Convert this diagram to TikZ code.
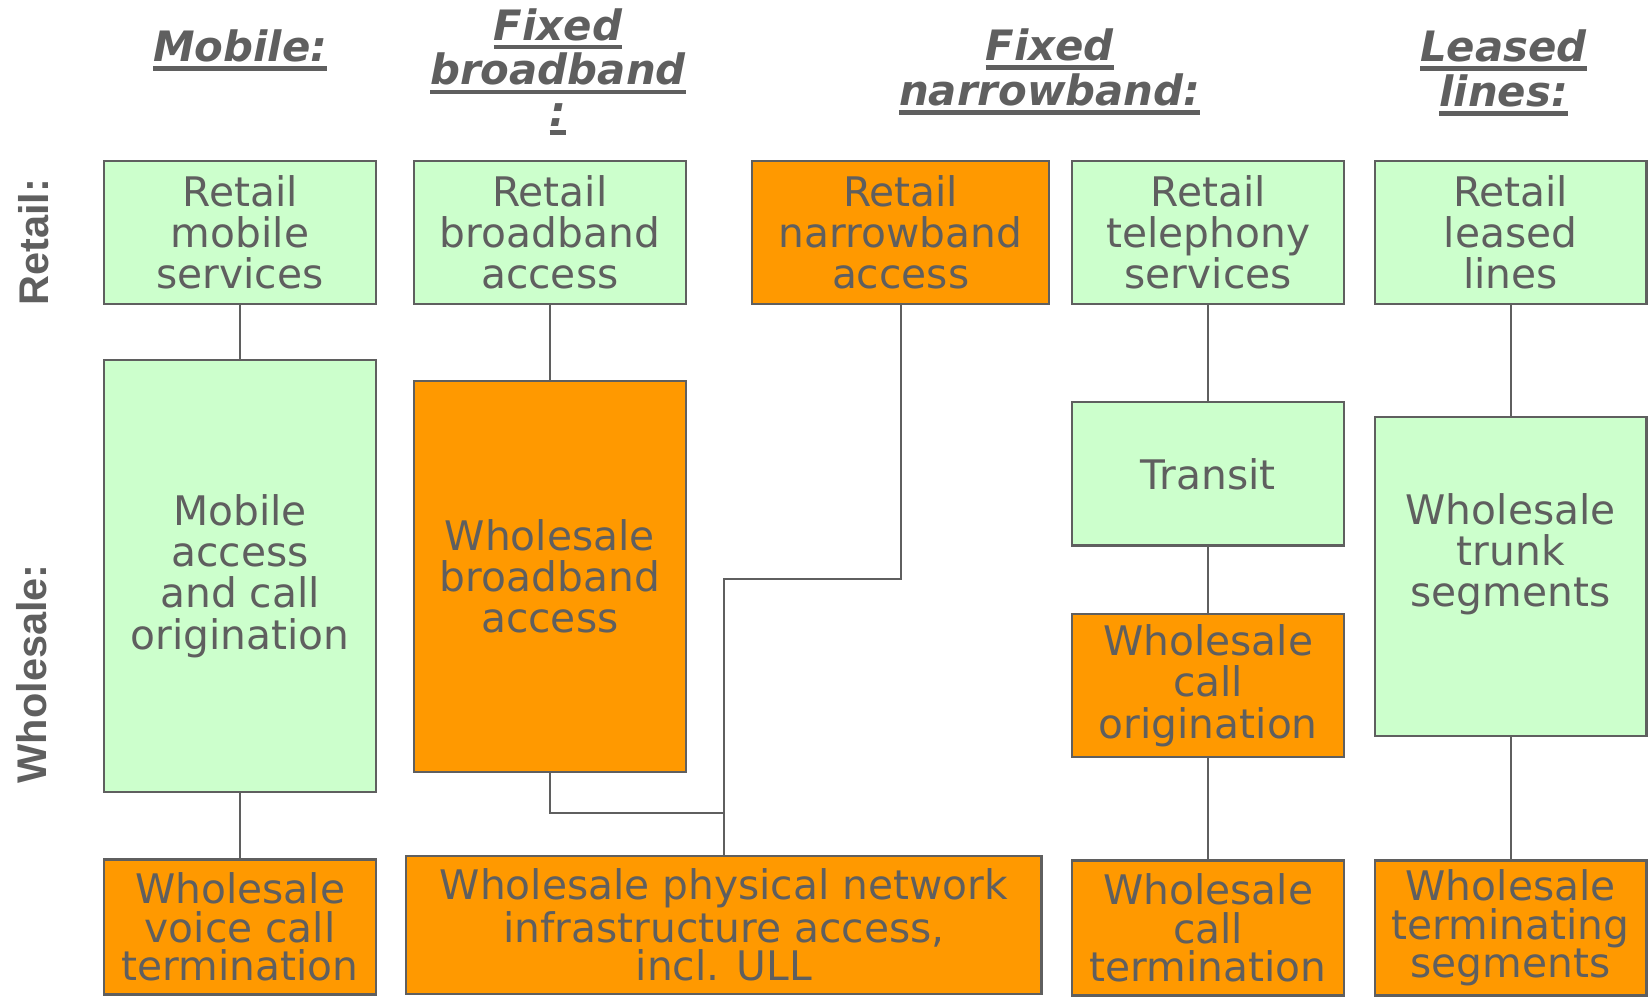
\documentclass[tikz,border=0pt]{standalone}
\usepackage{fontspec}
\setmainfont{DejaVu Sans}
\newfontfamily\sidefont{Liberation Sans}
\usetikzlibrary{positioning}
\definecolor{boxgreen}{HTML}{CCFFCC}
\definecolor{boxorange}{HTML}{FF9900}
\definecolor{inkgray}{HTML}{5F5F5F}
\newcommand{\hul}[1]{\vtop{\hbox{#1}\kern1.1pt\hrule height 1.3pt}}
\begin{document}
\begin{tikzpicture}[
        x=0.01cm, y=-0.01cm,
        every node/.style={text=inkgray, align=center, inner sep=0pt, outer sep=0pt},
        box/.style={draw=inkgray, line width=0.6pt, minimum width=2.58cm, font=\fontsize{11}{11.1}\selectfont},
        gbox/.style={box, fill=boxgreen},
        obox/.style={box, fill=boxorange},
        lowbox/.style={font=\fontsize{11}{10.4}\selectfont},
        head/.style={font=\fontsize{11.3}{11.1}\selectfont\bfseries\itshape},
        side/.style={rotate=90, font=\fontsize{11.2}{12}\selectfont\sidefont\bfseries},
        link/.style={draw=inkgray, line width=0.6pt}
    ]
        \useasboundingbox (0,0) rectangle (1568,946);

        \node[head] (hmob) at (228,48) {\hul{Mobile:}};
        \node[head] (hbb) at (530,68) {\hul{Fixed}\\\hul{broadband}\\\hul{:}};
        \node[head] (hnb) at (997,68) {\hul{Fixed}\\\hul{narrowband:}};
        \node[head] (hll) at (1428,69) {\hul{Leased}\\\hul{lines:}};

        \node[side] (lret) at (32,230) {Retail:};
        \node[side] (lwho) at (30,640) {Wholesale:};

        \node[gbox, minimum height=1.36cm] (rmob) at (228,221) {Retail\\mobile\\services};
        \node[gbox, minimum height=4.10cm, below=0.53cm of rmob] (wmob) {Mobile\\access\\and call\\origination};
        \node[obox, lowbox, minimum height=1.28cm, below=0.64cm of wmob] (tmob) {Wholesale\\voice call\\termination};

        \node[gbox, minimum height=1.36cm, right=0.36cm of rmob] (rbb) {Retail\\broadband\\access};
        \node[obox, minimum height=3.71cm, below=0.73cm of rbb] (wbb) {Wholesale\\broadband\\access};

        \node[obox, minimum width=2.82cm, minimum height=1.36cm, right=0.63cm of rbb] (rnb) {Retail\\narrowband\\access};
        \node[obox, lowbox, minimum width=6.03cm, minimum height=1.31cm] (phys) at (687.5,878.5) {Wholesale physical network\\infrastructure access,\\incl. ULL};

        \node[gbox, minimum height=1.36cm, right=0.22cm of rnb] (rtel) {Retail\\telephony\\services};
        \node[gbox, minimum height=1.36cm, below=0.93cm of rtel] (transit) {Transit};
        \node[obox, minimum height=1.36cm, below=0.65cm of transit] (wco) {Wholesale\\call\\origination};
        \node[obox, lowbox, minimum height=1.28cm, below=0.98cm of wco] (wct) {Wholesale\\call\\termination};

        \node[gbox, minimum height=1.36cm, right=0.29cm of rtel] (rll) {Retail\\leased\\lines};
        \node[gbox, minimum height=3.03cm, text depth=0.5cm, below=1.07cm of rll] (trunk) {Wholesale\\trunk\\segments};
        \node[obox, lowbox, minimum height=1.28cm, below=1.18cm of trunk] (tseg) {Wholesale\\terminating\\segments};

        \path[link] (rmob) -- (wmob);
        \path[link] (wmob) -- (tmob);
        \path[link] (rbb) -- (wbb);
        \path[link] (wbb.south) -- ++(0,39) -| (phys.north);
        \path[link] (rnb.south) -- ++(0,261) -| (phys.north);
        \path[link] (rtel) -- (transit);
        \path[link] (transit) -- (wco);
        \path[link] (wco) -- (wct);
        \path[link] (rll) -- (trunk);
        \path[link] (trunk) -- (tseg);
    \end{tikzpicture}
\end{document}
